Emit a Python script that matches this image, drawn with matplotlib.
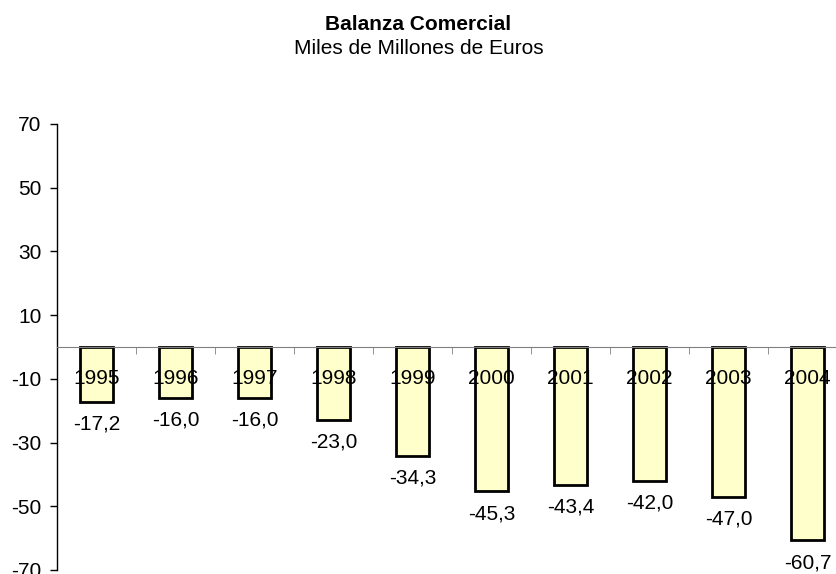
import matplotlib.pyplot as plt
import numpy as np

# data
years = ['1995', '1996', '1997', '1998', '1999', '2000', '2001', '2002', '2003', '2004']
saldo = [-17.2, -16.0, -16.0, -23.0, -34.3, -45.3, -43.4, -42.0, -47.0, -60.7]
yticks = [70, 50, 30, 10, -10, -30, -50, -70]

plt.rcParams['font.family'] = ['Liberation Sans', 'DejaVu Sans']

fig = plt.figure(figsize=(8.37, 5.74), dpi=100)
ax = fig.add_axes([0.068, 0.007, 0.944, 0.777])
ax.set_axisbelow(False)  # year labels go over the bars

x = np.arange(len(years))
ax.bar(x, saldo, width=0.42, color='#FFFFCC', edgecolor='black', linewidth=2.0)

for xi, v in zip(x, saldo):
    ax.annotate(f'{v:.1f}'.replace('.', ','), (xi, v), xytext=(0, -16),
                textcoords='offset points', ha='center', va='center', fontsize=15)

ax.set_xlim(-0.5, len(years) - 0.5)
ax.set_ylim(-70, 70)
ax.set_yticks(yticks)
ax.set_yticklabels([str(t) for t in yticks], fontsize=15)
ax.tick_params(axis='y', direction='out', length=5, width=1, pad=6)

# category axis sits on zero
ax.spines['bottom'].set_position(('data', 0))
ax.spines['bottom'].set_color('#808080')
ax.spines['top'].set_visible(False)
ax.spines['right'].set_visible(False)
ax.spines['left'].set_linewidth(1)
ax.set_xticks(x)
ax.set_xticklabels(years, fontsize=15)
ax.tick_params(axis='x', which='major', length=0, pad=16)
ax.set_xticks(x[:-1] + 0.5, minor=True)
ax.tick_params(axis='x', which='minor', direction='out', length=5, color='#808080')

fig.text(0.5, 1 - 24 / 574, 'Balanza Comercial', ha='center', va='center',
         fontsize=15, fontweight='bold')
fig.text(0.5, 1 - 49 / 574, 'Miles de Millones de Euros', ha='center', va='center',
         fontsize=15)

fig.savefig('out.png', dpi=100)
